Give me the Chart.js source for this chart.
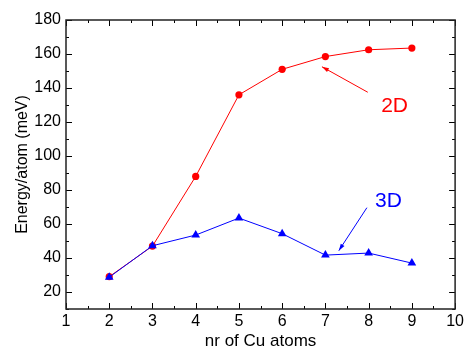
<!DOCTYPE html>
<html>
<head>
<meta charset="utf-8">
<script src="https://cdn.jsdelivr.net/npm/chart.js@4.4.1/dist/chart.umd.min.js"></script>
<style>
  html, body { margin: 0; padding: 0; background: #fff; }
  #wrap { width: 467px; height: 354px; }
</style>
</head>
<body>
<div id="wrap"><canvas id="c" width="467" height="354"></canvas></div>
<script>
// Number of Cu atoms in the cluster
const atomCounts = [2, 3, 4, 5, 6, 7, 8, 9];
// Energy per atom (meV) for planar (2D) and three-dimensional (3D) clusters
const energy2D = [29, 47, 88, 136, 151, 158.5, 162.5, 163.5];
const energy3D = [28.7, 47.2, 53.5, 63.5, 54.3, 41.7, 42.9, 37];

// Axis ranges and labelled ticks
const xRange = [1, 10];
const yRange = [10, 180];
const xTickLabels = [1, 2, 3, 4, 5, 6, 7, 8, 9, 10];
const yTickLabels = [20, 40, 60, 80, 100, 120, 140, 160, 180];

// Callout labels, in data coordinates: text anchor, arrow tail, arrow head
const callouts = [
  { text: '2D', color: '#ff0000', at: [8.6, 129.3], from: [7.98, 137.5], to: [6.92, 152.5] },
  { text: '3D', color: '#0000ff', at: [8.46, 73.2], from: [7.96, 69.6], to: [7.31, 44.3] }
];

const FONT = "'Liberation Sans', Arial, sans-serif";

const toPoints = (ys) => atomCounts.map((x, i) => ({ x, y: ys[i] }));

// Frame with inward major/minor ticks on all four sides
const framePlugin = {
  id: 'frame',
  afterDraw(chart) {
    const { ctx, chartArea: a, scales } = chart;
    ctx.save();
    ctx.strokeStyle = '#000';
    ctx.lineWidth = 1;
    const xs = [];
    for (let v = xRange[0]; v <= xRange[1] + 1e-9; v += 0.5) xs.push(v);
    const ys = [];
    for (let v = yRange[0]; v <= yRange[1] + 1e-9; v += 10) ys.push(v);
    xs.forEach(v => {
      const px = Math.round(scales.x.getPixelForValue(v)) + 0.5;
      const len = Number.isInteger(v) ? 6 : 3;
      ctx.beginPath();
      ctx.moveTo(px, a.bottom); ctx.lineTo(px, a.bottom - len);
      ctx.moveTo(px, a.top); ctx.lineTo(px, a.top + len);
      ctx.stroke();
    });
    ys.forEach(v => {
      const py = Math.round(scales.y.getPixelForValue(v)) + 0.5;
      const len = v % 20 === 0 ? 6 : 3;
      ctx.beginPath();
      ctx.moveTo(a.left, py); ctx.lineTo(a.left + len, py);
      ctx.moveTo(a.right, py); ctx.lineTo(a.right - len, py);
      ctx.stroke();
    });
    ctx.lineWidth = 1.5;
    ctx.strokeStyle = '#222';
    ctx.strokeRect(a.left, a.top, a.right - a.left, a.bottom - a.top);
    ctx.restore();
  }
};

// Text labels with thin arrows pointing at the curves
const calloutPlugin = {
  id: 'callouts',
  afterDatasetsDraw(chart) {
    const { ctx, scales } = chart;
    const X = v => scales.x.getPixelForValue(v);
    const Y = v => scales.y.getPixelForValue(v);
    ctx.save();
    callouts.forEach(c => {
      const x1 = X(c.from[0]), y1 = Y(c.from[1]);
      const x2 = X(c.to[0]), y2 = Y(c.to[1]);
      ctx.strokeStyle = c.color;
      ctx.fillStyle = c.color;
      ctx.lineWidth = 1;
      ctx.beginPath();
      ctx.moveTo(x1, y1); ctx.lineTo(x2, y2);
      ctx.stroke();
      const ang = Math.atan2(y2 - y1, x2 - x1);
      const hl = 7, hw = 2.2;
      ctx.beginPath();
      ctx.moveTo(x2, y2);
      ctx.lineTo(x2 - hl * Math.cos(ang) + hw * Math.sin(ang), y2 - hl * Math.sin(ang) - hw * Math.cos(ang));
      ctx.lineTo(x2 - hl * Math.cos(ang) - hw * Math.sin(ang), y2 - hl * Math.sin(ang) + hw * Math.cos(ang));
      ctx.closePath();
      ctx.fill();
      ctx.font = '21px ' + FONT;
      ctx.textAlign = 'center';
      ctx.textBaseline = 'middle';
      ctx.fillText(c.text, X(c.at[0]), Y(c.at[1]));
    });
    ctx.restore();
  }
};

new Chart(document.getElementById('c'), {
  type: 'line',
  data: {
    datasets: [
      {
        label: '3D',
        data: toPoints(energy3D),
        borderColor: '#0000ff',
        backgroundColor: '#0000ff',
        borderWidth: 1,
        pointStyle: 'triangle',
        pointRadius: 5,
        pointBorderWidth: 0,
        tension: 0,
        order: 0
      },
      {
        label: '2D',
        data: toPoints(energy2D),
        borderColor: '#ff0000',
        backgroundColor: '#ff0000',
        borderWidth: 1,
        pointStyle: 'circle',
        pointRadius: 3.6,
        pointBorderWidth: 0,
        tension: 0,
        order: 1
      }
    ]
  },
  options: {
    responsive: false,
    animation: false,
    layout: { padding: { top: 20, right: 10, left: 0, bottom: 0 } },
    plugins: { legend: { display: false }, tooltip: { enabled: false } },
    scales: {
      x: {
        type: 'linear',
        min: xRange[0],
        max: xRange[1],
        grid: { display: false, drawTicks: false },
        border: { display: false },
        ticks: {
          stepSize: 0.5,
          autoSkip: false,
          maxRotation: 0,
          padding: 3,
          color: '#000',
          font: { family: FONT, size: 16 },
          callback: v => xTickLabels.includes(v) ? String(v) : ''
        },
        title: {
          display: true,
          text: 'nr of Cu atoms',
          color: '#000',
          font: { family: FONT, size: 17 },
          padding: { top: 0, bottom: 2 }
        },
        afterFit: s => { s.height = 45; }
      },
      y: {
        type: 'linear',
        min: yRange[0],
        max: yRange[1],
        grid: { display: false, drawTicks: false },
        border: { display: false },
        ticks: {
          stepSize: 10,
          autoSkip: false,
          padding: 5,
          color: '#000',
          font: { family: FONT, size: 16 },
          callback: v => yTickLabels.includes(v) ? String(v) : ''
        },
        title: {
          display: true,
          text: 'Energy/atom (meV)',
          color: '#000',
          font: { family: FONT, size: 16 },
          padding: { top: 13, bottom: 0 }
        },
        afterFit: s => { s.width = 66; }
      }
    }
  },
  plugins: [framePlugin, calloutPlugin]
});
</script>
</body>
</html>
